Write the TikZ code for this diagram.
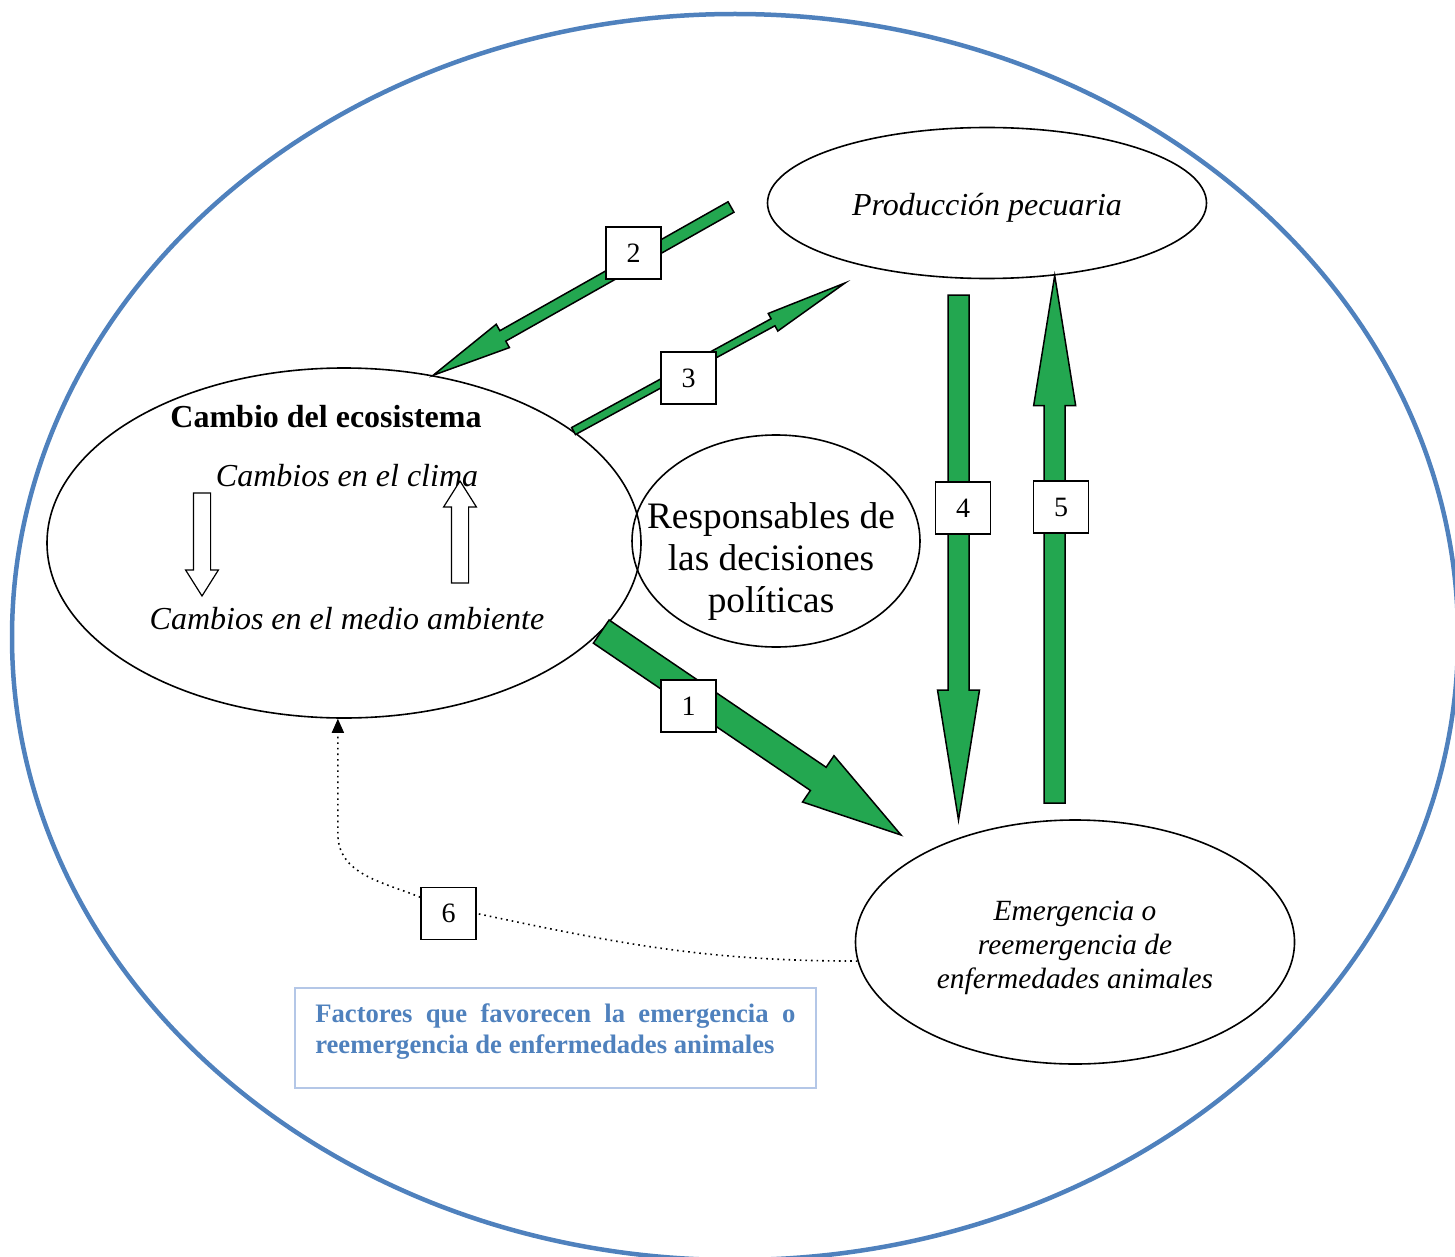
\documentclass[tikz,border=0pt]{standalone}
\usepackage{fontspec}
\setmainfont{Liberation Serif}
\usetikzlibrary{shapes.geometric,arrows.meta,calc}
\definecolor{arrowGreen}{RGB}{35,167,80}
\definecolor{ringBlue}{RGB}{79,129,189}
\definecolor{boxBlue}{RGB}{180,199,231}
% block arrow: style, tail, tip, half shaft, half head, head length
\newcommand{\blockarrow}[6]{%
  \path ($(#3)!#6!(#2)$) coordinate (headbase);
  \draw[#1] ($(#2)!#4!90:(#3)$) -- ($(headbase)!#4!90:(#3)$)
    -- ($(headbase)!#5!90:(#3)$) -- (#3) -- ($(headbase)!#5!-90:(#3)$)
    -- ($(headbase)!#4!-90:(#3)$) -- ($(#2)!#4!-90:(#3)$) -- cycle;
}
\begin{document}
\begin{tikzpicture}
[x=0.5pt,y=-0.5pt,
  bigRing/.style={draw=ringBlue,line width=2.25pt},%
  ovalNode/.style={shape=ellipse,draw,line width=0.8pt,inner sep=0pt},%
  greenArrow/.style={fill=arrowGreen,draw=black,line width=0.75pt},%
  hollowArrow/.style={fill=white,draw=black,line width=0.6pt},%
  numBox/.style={shape=rectangle,draw,fill=white,line width=0.8pt,inner sep=0pt,
    minimum width=27.5pt,minimum height=26pt,font=\fontsize{14}{16}\selectfont},%
  dottedArrow/.style={dotted,line width=0.8pt},%
  factBox/.style={draw=boxBlue,line width=0.8pt,text width=240pt,inner xsep=10.25pt,
    minimum height=50pt,align=justify,text=ringBlue,
    font=\bfseries\fontsize{13.33}{15.5}\selectfont}]
\useasboundingbox (0,0) rectangle (1455,1257);
\clip (0,0) rectangle (1455,1257);
%% outer ring
\draw[bigRing] (735,637) ellipse [x radius=361.5pt, y radius=311.5pt];
%% ovals
\node[ovalNode,minimum width=297pt,minimum height=175pt] (eco) at (344,543) {};
\node[ovalNode,minimum width=219.5pt,minimum height=75.5pt] (prod) at (987,203) {};
\node[ovalNode,minimum width=144pt,minimum height=106pt] (resp) at (776,541) {};
\node[ovalNode,minimum width=219.5pt,minimum height=122pt] (emerg) at (1075,942) {};
%% texts
\node[font=\itshape\fontsize{16}{19}\selectfont] (prodText) at (987,208) {Producción pecuaria};
\node[align=center,font=\itshape\fontsize{14.67}{17}\selectfont] (emergText) at (1075,948)
  {Emergencia o\\reemergencia de\\enfermedades animales};
\node[font=\bfseries\fontsize{16}{19}\selectfont] (ecoTitle) at (326,417) {Cambio del ecosistema};
\node[font=\itshape\fontsize{16}{19}\selectfont] (clima) at (347,476) {Cambios en el clima};
\node[font=\itshape\fontsize{16}{19}\selectfont] (medio) at (347,619) {Cambios en el medio ambiente};
\node[align=center,font=\fontsize{18.67}{21}\selectfont] (respText) at (771,562)
  {Responsables de\\las decisiones\\políticas};
%% free ends
\foreach \name/\x/\y in {a1e/901/835, a2s/731/207, a3e/845/283, a4s/958.5/295,
  a4e/958.5/820, a5s/1054.5/803, h1s/202/493, h1e/202/596, h2s/460/583, h2e/460/481}
{
  \coordinate (\name) at (\x,\y);
}
%% hollow arrows
\foreach \from/\to in {h1s/h1e, h2s/h2e}
{
  \blockarrow{hollowArrow}{\from}{\to}{4.3pt}{8.2pt}{13pt}
}
%% green arrows
\foreach \from/\to/\sw/\hw/\hl in {eco.-19/a1e/7pt/14pt/50pt, a2s/eco.62/3pt/6.7pt/40pt,
  eco.26/a3e/2pt/5pt/41pt, a4s/a4e/5.25pt/10.5pt/65pt, a5s/prod.-47/5.25pt/10.5pt/65pt}
{
  \blockarrow{greenArrow}{\from}{\to}{\sw}{\hw}{\hl}
}
%% number boxes
\foreach \lab/\x/\y in {1/688.5/706, 2/633.5/253, 3/688.5/378, 4/963/508,
  5/1061/507, 6/448.5/913.5}
{
  \node[numBox] (n\lab) at (\x,\y) {\lab};
}
%% dotted feedback
\draw[dottedArrow] (emerg.185) to[out=180,in=-12] (n6.east);
\draw[dottedArrow,-{Triangle[width=6pt,length=7pt]}] (n6.150)
  to[out=158,in=-90] ($(eco.268)+(0,115)$) -- (eco.268);
%% caption box
\node[factBox,anchor=north west] (facts) at (294,987)
  {Factores que favorecen la emergencia o reemergencia de enfermedades animales\par\kern6pt};
\end{tikzpicture}
\end{document}
